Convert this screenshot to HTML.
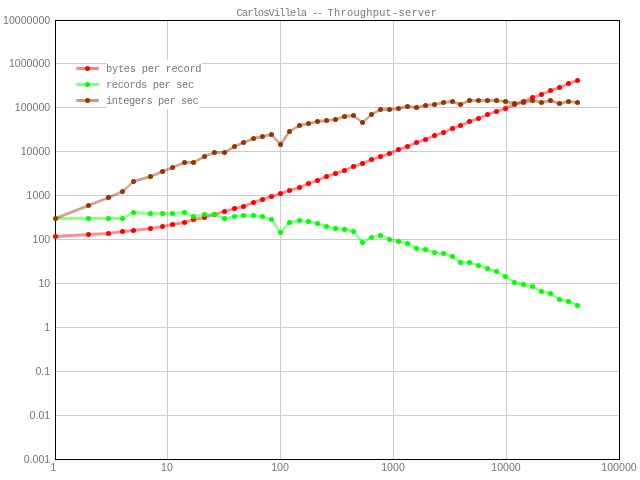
<!DOCTYPE html>
<html><head><meta charset="utf-8"><title>CarlosVillela -- Throughput-server</title>
<style>
html,body{margin:0;padding:0;background:#fff;}
body{width:640px;height:480px;overflow:hidden;position:relative;}
svg{display:block;position:absolute;left:0;top:0;}
svg.txt{filter:grayscale(1);will-change:transform;}
.ax{font-family:"Liberation Sans",Arial,Helvetica,sans-serif;font-size:10.6px;fill:#767676;}
.tt{font-family:"Liberation Mono","DejaVu Sans Mono",monospace;font-size:10.4px;fill:#797979;}
</style></head><body>
<svg width="640" height="480" viewBox="0 0 640 480">
<rect x="0" y="0" width="640" height="480" fill="#ffffff"/>
<g fill="#cdcdcd" shape-rendering="crispEdges">
<rect x="56" y="415" width="563" height="1"/>
<rect x="56" y="371" width="563" height="1"/>
<rect x="56" y="327" width="563" height="1"/>
<rect x="56" y="283" width="563" height="1"/>
<rect x="56" y="239" width="563" height="1"/>
<rect x="56" y="195" width="563" height="1"/>
<rect x="56" y="151" width="563" height="1"/>
<rect x="56" y="107" width="563" height="1"/>
<rect x="56" y="63" width="563" height="1"/>
<rect x="167" y="21" width="1" height="438"/>
<rect x="280" y="21" width="1" height="438"/>
<rect x="393" y="21" width="1" height="438"/>
<rect x="506" y="21" width="1" height="438"/>
</g>
<g fill="#ffffff" shape-rendering="crispEdges">
<rect x="107" y="60" width="95" height="16"/>
<rect x="107" y="76" width="82" height="16"/>
<rect x="107" y="92" width="92" height="17"/>
</g>
<g fill="#000008" shape-rendering="crispEdges">
<rect x="55" y="20" width="565" height="1"/>
<rect x="55" y="459" width="565" height="1"/>
<rect x="55" y="20" width="1" height="440"/>
<rect x="619" y="20" width="1" height="440"/>
</g>
<path d="M55.5,234.9L88.5,232.9L88.5,236.1L55.5,238.1ZM88.5,232.9L108.5,231.9L108.5,235.1L88.5,236.1ZM108.5,231.9L122.5,229.9L122.5,233.1L108.5,235.1ZM122.5,229.9L133.5,228.9L133.5,232.1L122.5,233.1ZM133.5,228.9L150.5,226.9L150.5,230.1L133.5,232.1ZM150.5,226.9L162.5,224.9L162.5,228.1L150.5,230.1ZM162.5,224.9L172.5,222.9L172.5,226.1L162.5,228.1ZM172.5,222.9L184.5,220.9L184.5,224.1L172.5,226.1ZM184.5,220.9L193.5,217.9L193.5,221.1L184.5,224.1ZM193.5,217.9L204.5,215.9L204.5,219.1L193.5,221.1ZM204.5,215.9L214.5,212.9L214.5,216.1L204.5,219.1ZM214.5,212.9L224.5,209.9L224.5,213.1L214.5,216.1ZM224.5,209.9L234.5,206.9L234.5,210.1L224.5,213.1ZM234.5,206.9L243.5,204.9L243.5,208.1L234.5,210.1ZM243.5,204.9L253.5,200.9L253.5,204.1L243.5,208.1ZM253.5,200.9L262.5,197.9L262.5,201.1L253.5,204.1ZM262.5,197.9L271.5,194.9L271.5,198.1L262.5,201.1ZM271.5,194.9L280.5,191.9L280.5,195.1L271.5,198.1ZM280.5,191.9L289.5,188.9L289.5,192.1L280.5,195.1ZM289.5,188.9L299.5,185.9L299.5,189.1L289.5,192.1ZM299.5,185.9L308.5,181.9L308.5,185.1L299.5,189.1ZM308.5,181.9L317.5,178.9L317.5,182.1L308.5,185.1ZM317.5,178.9L326.5,174.9L326.5,178.1L317.5,182.1ZM326.5,174.9L335.5,171.9L335.5,175.1L326.5,178.1ZM335.5,171.9L344.5,168.9L344.5,172.1L335.5,175.1ZM344.5,168.9L353.5,164.9L353.5,168.1L344.5,172.1ZM353.5,164.9L362.5,161.9L362.5,165.1L353.5,168.1ZM362.5,161.9L371.5,157.9L371.5,161.1L362.5,165.1ZM371.5,157.9L380.5,154.9L380.5,158.1L371.5,161.1ZM380.5,154.9L389.5,151.9L389.5,155.1L380.5,158.1ZM389.5,151.9L398.5,147.9L398.5,151.1L389.5,155.1ZM398.5,147.9L407.5,144.9L407.5,148.1L398.5,151.1ZM407.5,144.9L416.5,140.9L416.5,144.1L407.5,148.1ZM416.5,140.9L425.5,137.9L425.5,141.1L416.5,144.1ZM425.5,137.9L434.5,133.9L434.5,137.1L425.5,141.1ZM434.5,133.9L443.5,130.9L443.5,134.1L434.5,137.1ZM443.5,130.9L452.5,126.9L452.5,130.1L443.5,134.1ZM452.5,126.9L460.5,123.9L460.5,127.1L452.5,130.1ZM460.5,123.9L469.5,119.9L469.5,123.1L460.5,127.1ZM469.5,119.9L478.5,116.9L478.5,120.1L469.5,123.1ZM478.5,116.9L487.5,112.9L487.5,116.1L478.5,120.1ZM487.5,112.9L496.5,109.9L496.5,113.1L487.5,116.1ZM496.5,109.9L505.5,106.9L505.5,110.1L496.5,113.1ZM505.5,106.9L514.5,102.9L514.5,106.1L505.5,110.1ZM514.5,102.9L523.5,99.9L523.5,103.1L514.5,106.1ZM523.5,99.9L532.5,95.9L532.5,99.1L523.5,103.1ZM532.5,95.9L541.5,92.9L541.5,96.1L532.5,99.1ZM541.5,92.9L550.5,88.9L550.5,92.1L541.5,96.1ZM550.5,88.9L559.5,85.9L559.5,89.1L550.5,92.1ZM559.5,85.9L568.5,81.9L568.5,85.1L559.5,89.1ZM568.5,81.9L577.5,78.9L577.5,82.1L568.5,85.1Z" fill="#ff0000" fill-opacity="0.45" fill-rule="nonzero"/>
<g fill="#ff0000">
<circle cx="55.5" cy="236.5" r="2.5"/><circle cx="88.5" cy="234.5" r="2.5"/><circle cx="108.5" cy="233.5" r="2.5"/><circle cx="122.5" cy="231.5" r="2.5"/><circle cx="133.5" cy="230.5" r="2.5"/><circle cx="150.5" cy="228.5" r="2.5"/><circle cx="162.5" cy="226.5" r="2.5"/><circle cx="172.5" cy="224.5" r="2.5"/><circle cx="184.5" cy="222.5" r="2.5"/><circle cx="193.5" cy="219.5" r="2.5"/><circle cx="204.5" cy="217.5" r="2.5"/><circle cx="214.5" cy="214.5" r="2.5"/><circle cx="224.5" cy="211.5" r="2.5"/><circle cx="234.5" cy="208.5" r="2.5"/><circle cx="243.5" cy="206.5" r="2.5"/><circle cx="253.5" cy="202.5" r="2.5"/><circle cx="262.5" cy="199.5" r="2.5"/><circle cx="271.5" cy="196.5" r="2.5"/><circle cx="280.5" cy="193.5" r="2.5"/><circle cx="289.5" cy="190.5" r="2.5"/><circle cx="299.5" cy="187.5" r="2.5"/><circle cx="308.5" cy="183.5" r="2.5"/><circle cx="317.5" cy="180.5" r="2.5"/><circle cx="326.5" cy="176.5" r="2.5"/><circle cx="335.5" cy="173.5" r="2.5"/><circle cx="344.5" cy="170.5" r="2.5"/><circle cx="353.5" cy="166.5" r="2.5"/><circle cx="362.5" cy="163.5" r="2.5"/><circle cx="371.5" cy="159.5" r="2.5"/><circle cx="380.5" cy="156.5" r="2.5"/><circle cx="389.5" cy="153.5" r="2.5"/><circle cx="398.5" cy="149.5" r="2.5"/><circle cx="407.5" cy="146.5" r="2.5"/><circle cx="416.5" cy="142.5" r="2.5"/><circle cx="425.5" cy="139.5" r="2.5"/><circle cx="434.5" cy="135.5" r="2.5"/><circle cx="443.5" cy="132.5" r="2.5"/><circle cx="452.5" cy="128.5" r="2.5"/><circle cx="460.5" cy="125.5" r="2.5"/><circle cx="469.5" cy="121.5" r="2.5"/><circle cx="478.5" cy="118.5" r="2.5"/><circle cx="487.5" cy="114.5" r="2.5"/><circle cx="496.5" cy="111.5" r="2.5"/><circle cx="505.5" cy="108.5" r="2.5"/><circle cx="514.5" cy="104.5" r="2.5"/><circle cx="523.5" cy="101.5" r="2.5"/><circle cx="532.5" cy="97.5" r="2.5"/><circle cx="541.5" cy="94.5" r="2.5"/><circle cx="550.5" cy="90.5" r="2.5"/><circle cx="559.5" cy="87.5" r="2.5"/><circle cx="568.5" cy="83.5" r="2.5"/><circle cx="577.5" cy="80.5" r="2.5"/>
</g>
<path d="M55.5,216.9L88.5,216.9L88.5,220.1L55.5,220.1ZM88.5,216.9L108.5,216.9L108.5,220.1L88.5,220.1ZM108.5,216.9L122.5,216.9L122.5,220.1L108.5,220.1ZM122.5,216.9L133.5,210.9L133.5,214.1L122.5,220.1ZM133.5,210.9L150.5,211.9L150.5,215.1L133.5,214.1ZM150.5,211.9L162.5,211.9L162.5,215.1L150.5,215.1ZM162.5,211.9L172.5,211.9L172.5,215.1L162.5,215.1ZM172.5,211.9L184.5,210.9L184.5,214.1L172.5,215.1ZM184.5,210.9L193.5,214.9L193.5,218.1L184.5,214.1ZM193.5,214.9L204.5,212.9L204.5,216.1L193.5,218.1ZM204.5,212.9L214.5,212.9L214.5,216.1L204.5,216.1ZM214.5,212.9L224.5,216.9L224.5,220.1L214.5,216.1ZM224.5,216.9L234.5,214.9L234.5,218.1L224.5,220.1ZM234.5,214.9L243.5,213.9L243.5,217.1L234.5,218.1ZM243.5,213.9L253.5,213.9L253.5,217.1L243.5,217.1ZM253.5,213.9L262.5,214.9L262.5,218.1L253.5,217.1ZM262.5,214.9L271.5,217.9L271.5,221.1L262.5,218.1ZM273.1,219.5L282.1,232.5L278.9,232.5L269.9,219.5ZM278.9,232.5L287.9,222.5L291.1,222.5L282.1,232.5ZM289.5,220.9L299.5,218.9L299.5,222.1L289.5,224.1ZM299.5,218.9L308.5,219.9L308.5,223.1L299.5,222.1ZM308.5,219.9L317.5,221.9L317.5,225.1L308.5,223.1ZM317.5,221.9L326.5,224.9L326.5,228.1L317.5,225.1ZM326.5,224.9L335.5,226.9L335.5,230.1L326.5,228.1ZM335.5,226.9L344.5,227.9L344.5,231.1L335.5,230.1ZM344.5,227.9L353.5,229.9L353.5,233.1L344.5,231.1ZM355.1,231.5L364.1,242.5L360.9,242.5L351.9,231.5ZM362.5,240.9L371.5,235.9L371.5,239.1L362.5,244.1ZM371.5,235.9L380.5,233.9L380.5,237.1L371.5,239.1ZM380.5,233.9L389.5,237.9L389.5,241.1L380.5,237.1ZM389.5,237.9L398.5,239.9L398.5,243.1L389.5,241.1ZM398.5,239.9L407.5,241.9L407.5,245.1L398.5,243.1ZM407.5,241.9L416.5,246.9L416.5,250.1L407.5,245.1ZM416.5,246.9L425.5,247.9L425.5,251.1L416.5,250.1ZM425.5,247.9L434.5,250.9L434.5,254.1L425.5,251.1ZM434.5,250.9L443.5,251.9L443.5,255.1L434.5,254.1ZM443.5,251.9L452.5,254.9L452.5,258.1L443.5,255.1ZM452.5,254.9L460.5,260.9L460.5,264.1L452.5,258.1ZM460.5,260.9L469.5,260.9L469.5,264.1L460.5,264.1ZM469.5,260.9L478.5,263.9L478.5,267.1L469.5,264.1ZM478.5,263.9L487.5,266.9L487.5,270.1L478.5,267.1ZM487.5,266.9L496.5,269.9L496.5,273.1L487.5,270.1ZM496.5,269.9L505.5,274.9L505.5,278.1L496.5,273.1ZM505.5,274.9L514.5,280.9L514.5,284.1L505.5,278.1ZM514.5,280.9L523.5,282.9L523.5,286.1L514.5,284.1ZM523.5,282.9L532.5,284.9L532.5,288.1L523.5,286.1ZM532.5,284.9L541.5,289.9L541.5,293.1L532.5,288.1ZM541.5,289.9L550.5,291.9L550.5,295.1L541.5,293.1ZM550.5,291.9L559.5,297.9L559.5,301.1L550.5,295.1ZM559.5,297.9L568.5,299.9L568.5,303.1L559.5,301.1ZM568.5,299.9L577.5,303.9L577.5,307.1L568.5,303.1Z" fill="#00ff00" fill-opacity="0.45" fill-rule="nonzero"/>
<g fill="#00ff00">
<circle cx="88.5" cy="218.5" r="2.5"/><circle cx="108.5" cy="218.5" r="2.5"/><circle cx="122.5" cy="218.5" r="2.5"/><circle cx="133.5" cy="212.5" r="2.5"/><circle cx="150.5" cy="213.5" r="2.5"/><circle cx="162.5" cy="213.5" r="2.5"/><circle cx="172.5" cy="213.5" r="2.5"/><circle cx="184.5" cy="212.5" r="2.5"/><circle cx="193.5" cy="216.5" r="2.5"/><circle cx="204.5" cy="214.5" r="2.5"/><circle cx="214.5" cy="214.5" r="2.5"/><circle cx="224.5" cy="218.5" r="2.5"/><circle cx="234.5" cy="216.5" r="2.5"/><circle cx="243.5" cy="215.5" r="2.5"/><circle cx="253.5" cy="215.5" r="2.5"/><circle cx="262.5" cy="216.5" r="2.5"/><circle cx="271.5" cy="219.5" r="2.5"/><circle cx="280.5" cy="232.5" r="2.5"/><circle cx="289.5" cy="222.5" r="2.5"/><circle cx="299.5" cy="220.5" r="2.5"/><circle cx="308.5" cy="221.5" r="2.5"/><circle cx="317.5" cy="223.5" r="2.5"/><circle cx="326.5" cy="226.5" r="2.5"/><circle cx="335.5" cy="228.5" r="2.5"/><circle cx="344.5" cy="229.5" r="2.5"/><circle cx="353.5" cy="231.5" r="2.5"/><circle cx="362.5" cy="242.5" r="2.5"/><circle cx="371.5" cy="237.5" r="2.5"/><circle cx="380.5" cy="235.5" r="2.5"/><circle cx="389.5" cy="239.5" r="2.5"/><circle cx="398.5" cy="241.5" r="2.5"/><circle cx="407.5" cy="243.5" r="2.5"/><circle cx="416.5" cy="248.5" r="2.5"/><circle cx="425.5" cy="249.5" r="2.5"/><circle cx="434.5" cy="252.5" r="2.5"/><circle cx="443.5" cy="253.5" r="2.5"/><circle cx="452.5" cy="256.5" r="2.5"/><circle cx="460.5" cy="262.5" r="2.5"/><circle cx="469.5" cy="262.5" r="2.5"/><circle cx="478.5" cy="265.5" r="2.5"/><circle cx="487.5" cy="268.5" r="2.5"/><circle cx="496.5" cy="271.5" r="2.5"/><circle cx="505.5" cy="276.5" r="2.5"/><circle cx="514.5" cy="282.5" r="2.5"/><circle cx="523.5" cy="284.5" r="2.5"/><circle cx="532.5" cy="286.5" r="2.5"/><circle cx="541.5" cy="291.5" r="2.5"/><circle cx="550.5" cy="293.5" r="2.5"/><circle cx="559.5" cy="299.5" r="2.5"/><circle cx="568.5" cy="301.5" r="2.5"/><circle cx="577.5" cy="305.5" r="2.5"/>
</g>
<path d="M55.5,216.9L88.5,203.9L88.5,207.1L55.5,220.1ZM88.5,203.9L108.5,195.9L108.5,199.1L88.5,207.1ZM108.5,195.9L122.5,189.9L122.5,193.1L108.5,199.1ZM122.5,189.9L133.5,179.9L133.5,183.1L122.5,193.1ZM133.5,179.9L150.5,174.9L150.5,178.1L133.5,183.1ZM150.5,174.9L162.5,169.9L162.5,173.1L150.5,178.1ZM162.5,169.9L172.5,165.9L172.5,169.1L162.5,173.1ZM172.5,165.9L184.5,160.9L184.5,164.1L172.5,169.1ZM184.5,160.9L193.5,160.9L193.5,164.1L184.5,164.1ZM193.5,160.9L204.5,154.9L204.5,158.1L193.5,164.1ZM204.5,154.9L214.5,150.9L214.5,154.1L204.5,158.1ZM214.5,150.9L224.5,150.9L224.5,154.1L214.5,154.1ZM224.5,150.9L234.5,144.9L234.5,148.1L224.5,154.1ZM234.5,144.9L243.5,140.9L243.5,144.1L234.5,148.1ZM243.5,140.9L253.5,136.9L253.5,140.1L243.5,144.1ZM253.5,136.9L262.5,134.9L262.5,138.1L253.5,140.1ZM262.5,134.9L271.5,132.9L271.5,136.1L262.5,138.1ZM273.1,134.5L282.1,144.5L278.9,144.5L269.9,134.5ZM278.9,144.5L287.9,131.5L291.1,131.5L282.1,144.5ZM289.5,129.9L299.5,123.9L299.5,127.1L289.5,133.1ZM299.5,123.9L308.5,121.9L308.5,125.1L299.5,127.1ZM308.5,121.9L317.5,119.9L317.5,123.1L308.5,125.1ZM317.5,119.9L326.5,118.9L326.5,122.1L317.5,123.1ZM326.5,118.9L335.5,117.9L335.5,121.1L326.5,122.1ZM335.5,117.9L344.5,114.9L344.5,118.1L335.5,121.1ZM344.5,114.9L353.5,113.9L353.5,117.1L344.5,118.1ZM353.5,113.9L362.5,120.9L362.5,124.1L353.5,117.1ZM362.5,120.9L371.5,112.9L371.5,116.1L362.5,124.1ZM371.5,112.9L380.5,107.9L380.5,111.1L371.5,116.1ZM380.5,107.9L389.5,107.9L389.5,111.1L380.5,111.1ZM389.5,107.9L398.5,106.9L398.5,110.1L389.5,111.1ZM398.5,106.9L407.5,104.9L407.5,108.1L398.5,110.1ZM407.5,104.9L416.5,105.9L416.5,109.1L407.5,108.1ZM416.5,105.9L425.5,103.9L425.5,107.1L416.5,109.1ZM425.5,103.9L434.5,102.9L434.5,106.1L425.5,107.1ZM434.5,102.9L443.5,100.9L443.5,104.1L434.5,106.1ZM443.5,100.9L452.5,99.9L452.5,103.1L443.5,104.1ZM452.5,99.9L460.5,102.9L460.5,106.1L452.5,103.1ZM460.5,102.9L469.5,98.9L469.5,102.1L460.5,106.1ZM469.5,98.9L478.5,98.9L478.5,102.1L469.5,102.1ZM478.5,98.9L487.5,98.9L487.5,102.1L478.5,102.1ZM487.5,98.9L496.5,98.9L496.5,102.1L487.5,102.1ZM496.5,98.9L505.5,99.9L505.5,103.1L496.5,102.1ZM505.5,99.9L514.5,101.9L514.5,105.1L505.5,103.1ZM514.5,101.9L523.5,100.9L523.5,104.1L514.5,105.1ZM523.5,100.9L532.5,98.9L532.5,102.1L523.5,104.1ZM532.5,98.9L541.5,100.9L541.5,104.1L532.5,102.1ZM541.5,100.9L550.5,98.9L550.5,102.1L541.5,104.1ZM550.5,98.9L559.5,101.9L559.5,105.1L550.5,102.1ZM559.5,101.9L568.5,99.9L568.5,103.1L559.5,105.1ZM568.5,99.9L577.5,100.9L577.5,104.1L568.5,103.1Z" fill="#993300" fill-opacity="0.45" fill-rule="nonzero"/>
<g fill="#993300">
<circle cx="55.5" cy="218.5" r="2.5"/><circle cx="88.5" cy="205.5" r="2.5"/><circle cx="108.5" cy="197.5" r="2.5"/><circle cx="122.5" cy="191.5" r="2.5"/><circle cx="133.5" cy="181.5" r="2.5"/><circle cx="150.5" cy="176.5" r="2.5"/><circle cx="162.5" cy="171.5" r="2.5"/><circle cx="172.5" cy="167.5" r="2.5"/><circle cx="184.5" cy="162.5" r="2.5"/><circle cx="193.5" cy="162.5" r="2.5"/><circle cx="204.5" cy="156.5" r="2.5"/><circle cx="214.5" cy="152.5" r="2.5"/><circle cx="224.5" cy="152.5" r="2.5"/><circle cx="234.5" cy="146.5" r="2.5"/><circle cx="243.5" cy="142.5" r="2.5"/><circle cx="253.5" cy="138.5" r="2.5"/><circle cx="262.5" cy="136.5" r="2.5"/><circle cx="271.5" cy="134.5" r="2.5"/><circle cx="280.5" cy="144.5" r="2.5"/><circle cx="289.5" cy="131.5" r="2.5"/><circle cx="299.5" cy="125.5" r="2.5"/><circle cx="308.5" cy="123.5" r="2.5"/><circle cx="317.5" cy="121.5" r="2.5"/><circle cx="326.5" cy="120.5" r="2.5"/><circle cx="335.5" cy="119.5" r="2.5"/><circle cx="344.5" cy="116.5" r="2.5"/><circle cx="353.5" cy="115.5" r="2.5"/><circle cx="362.5" cy="122.5" r="2.5"/><circle cx="371.5" cy="114.5" r="2.5"/><circle cx="380.5" cy="109.5" r="2.5"/><circle cx="389.5" cy="109.5" r="2.5"/><circle cx="398.5" cy="108.5" r="2.5"/><circle cx="407.5" cy="106.5" r="2.5"/><circle cx="416.5" cy="107.5" r="2.5"/><circle cx="425.5" cy="105.5" r="2.5"/><circle cx="434.5" cy="104.5" r="2.5"/><circle cx="443.5" cy="102.5" r="2.5"/><circle cx="452.5" cy="101.5" r="2.5"/><circle cx="460.5" cy="104.5" r="2.5"/><circle cx="469.5" cy="100.5" r="2.5"/><circle cx="478.5" cy="100.5" r="2.5"/><circle cx="487.5" cy="100.5" r="2.5"/><circle cx="496.5" cy="100.5" r="2.5"/><circle cx="505.5" cy="101.5" r="2.5"/><circle cx="514.5" cy="103.5" r="2.5"/><circle cx="523.5" cy="102.5" r="2.5"/><circle cx="532.5" cy="100.5" r="2.5"/><circle cx="541.5" cy="102.5" r="2.5"/><circle cx="550.5" cy="100.5" r="2.5"/><circle cx="559.5" cy="103.5" r="2.5"/><circle cx="568.5" cy="101.5" r="2.5"/><circle cx="577.5" cy="102.5" r="2.5"/>
</g>
<line x1="76.3" y1="68.5" x2="98.7" y2="68.5" stroke="#ff0000" stroke-opacity="0.5" stroke-width="3"/>
<circle cx="87.5" cy="68.5" r="2.5" fill="#ff0000"/>
<line x1="76.3" y1="84.5" x2="98.7" y2="84.5" stroke="#00ff00" stroke-opacity="0.5" stroke-width="3"/>
<circle cx="87.5" cy="84.5" r="2.5" fill="#00ff00"/>
<line x1="76.3" y1="100.5" x2="98.7" y2="100.5" stroke="#993300" stroke-opacity="0.5" stroke-width="3"/>
<circle cx="87.5" cy="100.5" r="2.5" fill="#993300"/>
</svg>
<svg class="txt" width="640" height="480" viewBox="0 0 640 480">
<text class="tt" x="106" y="71.5" textLength="95.6" lengthAdjust="spacing">bytes per record</text>
<text class="tt" x="106" y="87.5" textLength="88.2" lengthAdjust="spacing">records per sec</text>
<text class="tt" x="106" y="103.5" textLength="92.8" lengthAdjust="spacing">integers per sec</text>
<text class="tt" y="15.5"><tspan x="236.4" textLength="70.6" lengthAdjust="spacing">CarlosVillela</tspan><tspan x="306.4"> </tspan><tspan x="312.3" textLength="10.6" lengthAdjust="spacing">--</tspan><tspan x="322.5"> </tspan><tspan x="327.6" textLength="109.4" lengthAdjust="spacing">Throughput-server</tspan></text>
<text class="ax" x="50.2" y="462.9" text-anchor="end">0.001</text>
<text class="ax" x="50.2" y="418.9" text-anchor="end">0.01</text>
<text class="ax" x="50.2" y="374.9" text-anchor="end">0.1</text>
<text class="ax" x="50.2" y="330.9" text-anchor="end">1</text>
<text class="ax" x="50.2" y="286.9" text-anchor="end">10</text>
<text class="ax" x="50.2" y="242.9" text-anchor="end">100</text>
<text class="ax" x="50.2" y="198.9" text-anchor="end">1000</text>
<text class="ax" x="50.2" y="154.9" text-anchor="end">10000</text>
<text class="ax" x="50.2" y="110.9" text-anchor="end">100000</text>
<text class="ax" x="50.2" y="66.9" text-anchor="end">1000000</text>
<text class="ax" x="50.2" y="23.9" text-anchor="end">10000000</text>
<text class="ax" x="53.4" y="471" text-anchor="middle">1</text>
<text class="ax" x="167" y="471" text-anchor="middle">10</text>
<text class="ax" x="280" y="471" text-anchor="middle">100</text>
<text class="ax" x="393" y="471" text-anchor="middle">1000</text>
<text class="ax" x="506" y="471" text-anchor="middle">10000</text>
<text class="ax" x="619" y="471" text-anchor="middle">100000</text>
</svg>
</body></html>
